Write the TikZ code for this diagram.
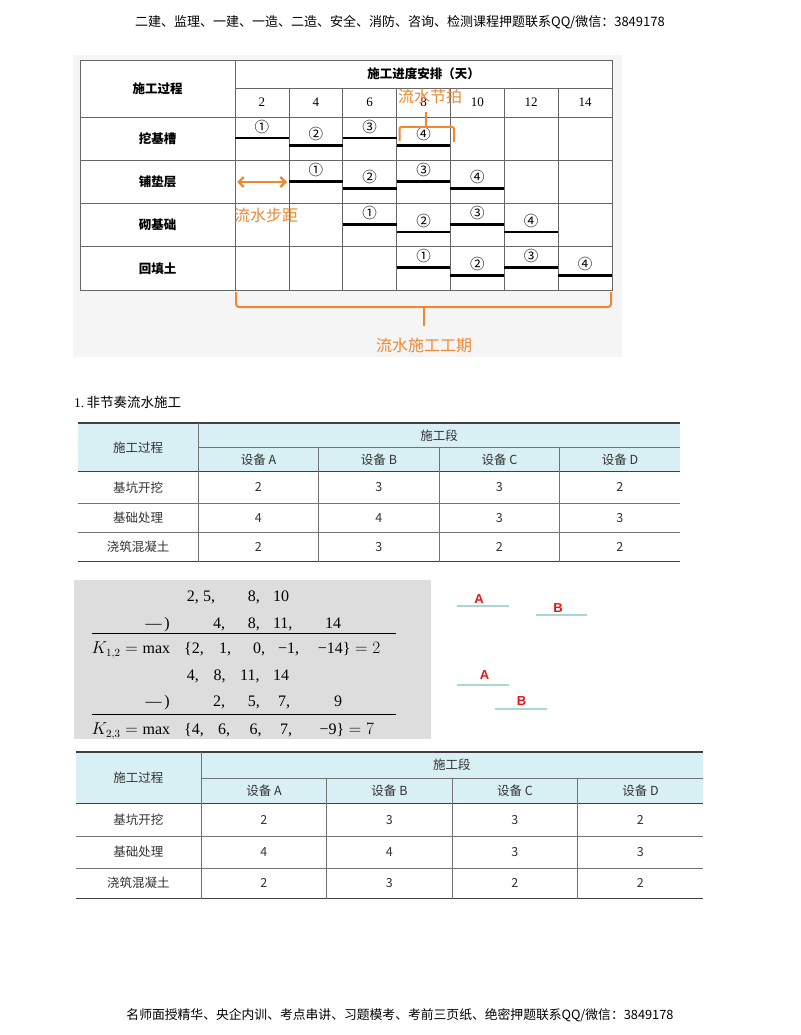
\documentclass[tikz,border=0pt]{standalone}
\usepackage{fontspec}
\setmainfont{Liberation Serif}
\newfontfamily\cjk{Noto Sans CJK SC}
\newfontfamily\arialb{Liberation Sans}[Scale=1]
\usetikzlibrary{positioning, arrows.meta}

\definecolor{orng}{RGB}{238,136,50}
\definecolor{hdr}{RGB}{216,239,243}
\definecolor{calcbg}{RGB}{221,221,221}
\definecolor{abline}{RGB}{170,214,214}
\definecolor{redlbl}{RGB}{228,22,22}

% one of the two equipment tables, in its own units (602 x 138.5)
\newcommand{\segtable}[1]{%
  \fill[hdr] (0,0) rectangle (602,48.5);
  \draw[rule] (0,0) -- (602,0) (0,48.5) -- (602,48.5) (0,138.5) -- (602,138.5);
  \draw[fine] (120,24.5) -- (602,24.5) (0,80) -- (602,80) (0,109.5) -- (602,109.5);
  \draw[fine] (120,0) -- (120,138.5);
  \foreach \i in {1,2,3} \draw[fine] (120+\i*120.5,24.5) -- (120+\i*120.5,138.5);
  \node[cell] (#1_p) at (60,24.25) {施工过程};
  \node[cell] (#1_s) at (361,12.25) {施工段};
  \foreach \e [count=\i] in {A,B,C,D}
    \node[cell] (#1_e\i) at (60+\i*120.5,36.5) {设备 \e};
  \foreach \w/\y/\va/\vb/\vc/\vd [count=\j] in
      {基坑开挖/64.25/2/3/3/2, 基础处理/94.75/4/4/3/3, 浇筑混凝土/124/2/3/2/2} {
    \node[cell] (#1_r\j) at (60,\y) {\w};
    \node[cell] (#1_r\j a) at (180.25,\y) {\va};
    \node[cell] (#1_r\j b) at (300.75,\y) {\vb};
    \node[cell] (#1_r\j c) at (421.25,\y) {\vc};
    \node[cell] (#1_r\j d) at (541.75,\y) {\vd};
  }
}

\begin{document}
\begin{tikzpicture}[x=1pt, y=-1pt, font=\cjk, inner sep=0pt,
    rule/.style={draw=black!75, line width=1.3pt},
    fine/.style={draw=black!55, line width=0.6pt},
    cell/.style={font=\cjk\fontsize{12.5}{12.5}\selectfont, text=black!80},
    grid/.style={draw=black!60, line width=0.7pt},
    bar/.style={line width=2.8pt},
    rowlab/.style={font=\cjk\bfseries\fontsize{12.5}{12.5}\selectfont},
    circ/.style={font=\cjk\fontsize{14.5}{14.5}\selectfont},
    note/.style={orng, line width=2pt},
    notetext/.style={text=orng, font=\cjk\fontsize{16}{16}\selectfont},
    calc/.style={anchor=base west, font=\fontsize{16}{16}\selectfont},
    abl/.style={abline, line width=1.8pt},
    ab/.style={text=redlbl, font=\arialb\bfseries\fontsize{13}{13}\selectfont}]
  \useasboundingbox (0,0) rectangle (800,1035);
  \fill[white] (0,0) rectangle (800,1035);

  \node (head) at (400,22) {\fontsize{13}{13}\selectfont 二建、监理、一建、一造、二造、安全、消防、咨询、检测课程押题联系QQ/微信：3849178};

  % schedule chart
  \fill[black!4] (73,55) rectangle (622,357);
  \fill[white] (80,60) rectangle (612,290);
  \draw[grid] (80,60) rectangle (612,290);
  \draw[grid] (235,60) -- (235,290) (235,88) -- (612,88);
  \foreach \y in {117,160.25,203.5,246.75} \draw[grid] (80,\y) -- (612,\y);
  \foreach \i in {1,...,6} \draw[grid] (235+\i*53.857,88) -- (235+\i*53.857,290);
  \node[rowlab] (proc) at (157.5,88.5) {施工过程};
  \node[rowlab] (plan) at (423.5,74) {施工进度安排（天）};
  \foreach \d [count=\i] in {2,4,...,14}
    \node[font=\fontsize{13}{13}\selectfont] (d_\i) at (235+\i*53.857-26.93,102.5) {\d};
  \foreach \r/\w in {1/挖基槽,2/铺垫层,3/砌基础,4/回填土} {
    \node[rowlab] (w_\r) at (157.5,{117+(\r-0.5)*43.25}) {\w};
    \foreach \s/\c in {1/①,2/②,3/③,4/④} {
      \pgfmathsetmacro{\xa}{235+(\r+\s-2)*53.857}
      \pgfmathsetmacro{\yb}{117+(\r-1)*43.25+(mod(\s,2)==1 ? 21 : 28.5)}
      \draw[bar] (\xa,\yb) -- ++(53.857,0);
      \node[circ] (c_\r_\s) at (\xa+26.93,\yb-11.5) {\c};
    }
  }

  % orange notes
  \node[notetext] (beat) at (430,96) {流水节拍};
  \draw[note, rounded corners=2pt] (399.5,141) -- (399.5,127) -- (454,127) -- (454,142);
  \draw[note] (426,127) -- (426,112);
  \coordinate (k_a) at (237,182);
  \coordinate (k_b) at (287,182);
  \draw[note, line width=2.4pt, {Straight Barb[length=5pt,width=10pt]}-{Straight Barb[length=5pt,width=10pt]}] (k_a) -- (k_b);
  \node[notetext, anchor=west] (step) at (234,215) {流水步距};
  \draw[note, rounded corners=3pt] (236,292) -- (236,307) -- (611,307) -- (611,292);
  \draw[note] (424,307) -- (424,326);
  \node[notetext] (span) at (424,345) {流水施工工期};

  \node[anchor=west, font=\fontsize{13.5}{13.5}\selectfont] (title) at (74,402.5) {1.\,{\cjk 非节奏流水施工}};

  \begin{scope}[shift={(78,423)}]
    \segtable{ta}
  \end{scope}

  % calculation box
  \fill[calcbg] (74,580) rectangle (431,739);
  \draw[line width=0.8pt] (91.5,633.3) -- (396,633.3) (91.5,714.3) -- (396,714.3);
  \foreach \x/\t in {186.7/{2,}, 202.8/{5,}, 247.7/{8,}, 272.8/{10}}
    \node[calc] at (\x,601) {\t};
  \foreach \x/\t in {145.4/{—\,)}, 212.9/{4,}, 247.7/{8,}, 272.8/{11,}, 324.8/{14}}
    \node[calc] at (\x,628) {\t};
  \foreach \x/\t in {91.5/{$K_{1,2}=\max$}, 184/{\{2,}, 219/{1,}, 253/{0,}, 278/{−1,}, 317.7/{−14\}\;$=2$}}
    \node[calc] at (\x,653.5) {\t};
  \foreach \x/\t in {186.7/{4,}, 213.4/{8,}, 240/{11,}, 272.8/{14}}
    \node[calc] at (\x,680.5) {\t};
  \foreach \x/\t in {145.4/{—\,)}, 212.9/{2,}, 247.7/{5,}, 278/{7,}, 333.8/{9}}
    \node[calc] at (\x,706.5) {\t};
  \foreach \x/\t in {91.5/{$K_{2,3}=\max$}, 184/{\{4,}, 217.9/{6,}, 249.5/{6,}, 280/{7,}, 319.5/{−9\}\;$=7$}}
    \node[calc] at (\x,734.5) {\t};

  % A / B sketch
  \draw[abl] (457,605.7) -- (508.6,605.7);
  \node[ab] (a_1) at (479,599) {A};
  \draw[abl] (536,615) -- (587,615);
  \node[ab] (b_1) at (558,608.5) {B};
  \draw[abl] (457,685) -- (508.6,685);
  \node[ab] (a_2) at (484.5,675.5) {A};
  \draw[abl] (495,709.3) -- (546.7,709.3);
  \node[ab] (b_2) at (521.5,701.5) {B};

  \begin{scope}[shift={(76,752)}, xscale=1.0415, yscale=1.058]
    \segtable{tb}
  \end{scope}

  \node (foot) at (400,1015) {\fontsize{12.8}{12.8}\selectfont 名师面授精华、央企内训、考点串讲、习题模考、考前三页纸、绝密押题联系QQ/微信：3849178};
\end{tikzpicture}
\end{document}
